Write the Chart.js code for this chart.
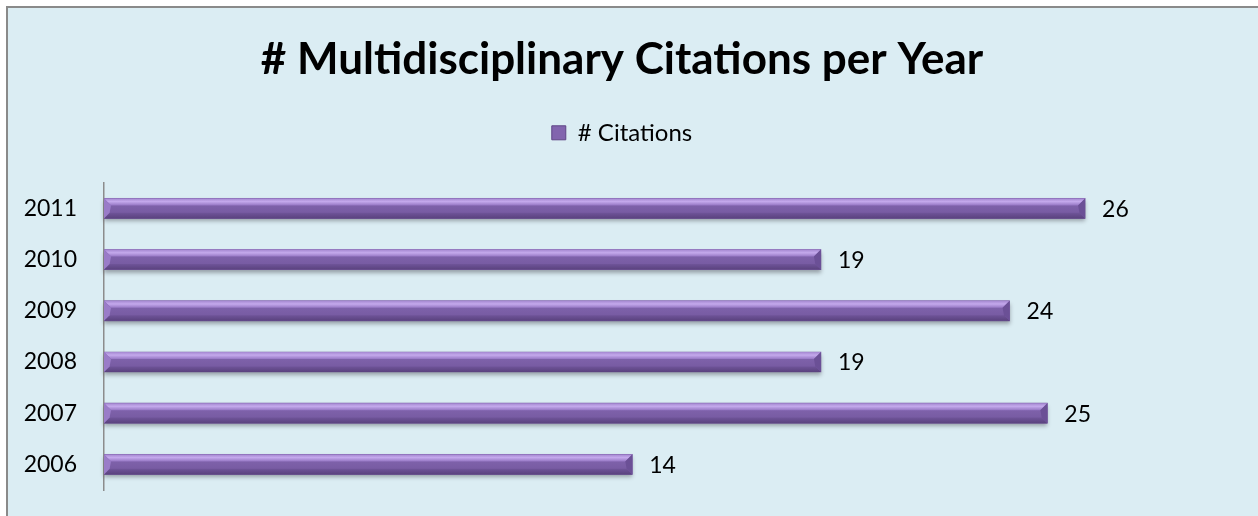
<!DOCTYPE html>
<html>
<head>
<meta charset="utf-8">
<script src="https://cdn.jsdelivr.net/npm/chart.js@4/dist/chart.umd.min.js"></script>
<style>
  html, body { margin: 0; padding: 0; background: #ffffff; overflow: hidden; }
  #frame {
    position: absolute; left: 6px; top: 6px;
    width: 1270px; height: 530px;
    border-left: 2px solid #8a8a8a; border-top: 2px solid #8a8a8a;
    background: #DBEDF3;
  }
  #c { position: absolute; left: 0; top: 0; }
</style>
</head>
<body>
<div id="frame"><canvas id="c" width="1250" height="508"></canvas></div>
<script>
const years = ['2006', '2007', '2008', '2009', '2010', '2011'];
const citations = [14, 25, 19, 24, 19, 26];
const seriesName = '# Citations';
const chartTitle = '# Multidisciplinary Citations per Year';
const xMax = 30;

const FONT = 'Lato, "Open Sans", sans-serif';

const bevelBars = {
  id: 'bevelBars',
  afterDatasetsDraw(chart) {
    const ctx = chart.ctx;
    const meta = chart.getDatasetMeta(0);
    meta.data.forEach((el) => {
      const p = el.getProps(['x', 'y', 'base', 'height'], true);
      const left = Math.min(p.base, p.x), right = Math.max(p.base, p.x);
      const top = p.y - p.height / 2, bottom = p.y + p.height / 2;
      const h = bottom - top;
      const b = Math.min(7, (right - left) / 2);
      ctx.save();
      ctx.shadowColor = 'rgba(70,70,80,0.45)';
      ctx.shadowBlur = 4;
      ctx.shadowOffsetY = 3;
      ctx.fillStyle = '#7D5FA8';
      ctx.fillRect(left, top, right - left, h);
      ctx.restore();
      ctx.save();
      const g = ctx.createLinearGradient(0, top, 0, bottom);
      g.addColorStop(0, '#8467B0');
      g.addColorStop(1, '#73579E');
      ctx.fillStyle = g;
      ctx.fillRect(left, top, right - left, h);
      const gt = ctx.createLinearGradient(0, top, 0, top + b);
      gt.addColorStop(0, '#A487D0');
      gt.addColorStop(0.45, '#C4A9EC');
      gt.addColorStop(1, '#9677C4');
      ctx.fillStyle = gt;
      ctx.beginPath();
      ctx.moveTo(left, top); ctx.lineTo(right, top);
      ctx.lineTo(right - b, top + b); ctx.lineTo(left + b, top + b);
      ctx.closePath(); ctx.fill();
      const gb = ctx.createLinearGradient(0, bottom - b * 0.8, 0, bottom);
      gb.addColorStop(0, '#6F5499');
      gb.addColorStop(1, '#5A427E');
      ctx.fillStyle = gb;
      ctx.beginPath();
      ctx.moveTo(left, bottom); ctx.lineTo(right, bottom);
      ctx.lineTo(right - b * 0.8, bottom - b * 0.8); ctx.lineTo(left + b * 0.8, bottom - b * 0.8);
      ctx.closePath(); ctx.fill();
      ctx.fillStyle = '#9A7CC8';
      ctx.beginPath();
      ctx.moveTo(left, top); ctx.lineTo(left + b, top + b);
      ctx.lineTo(left + b * 0.8, bottom - b * 0.8); ctx.lineTo(left, bottom);
      ctx.closePath(); ctx.fill();
      ctx.fillStyle = '#6B5096';
      ctx.beginPath();
      ctx.moveTo(right, top); ctx.lineTo(right - b, top + b);
      ctx.lineTo(right - b * 0.8, bottom - b * 0.8); ctx.lineTo(right, bottom);
      ctx.closePath(); ctx.fill();
      ctx.restore();
    });
  }
};

const valueLabels = {
  id: 'valueLabels',
  afterDatasetsDraw(chart) {
    const ctx = chart.ctx;
    const meta = chart.getDatasetMeta(0);
    const data = chart.data.datasets[0].data;
    ctx.save();
    ctx.font = '23px ' + FONT;
    ctx.fillStyle = '#000000';
    ctx.textAlign = 'left';
    ctx.textBaseline = 'middle';
    meta.data.forEach((el, i) => {
      ctx.fillText(String(data[i]), el.x + 17, el.y + 1);
    });
    ctx.restore();
  }
};

new Chart(document.getElementById('c'), {
  type: 'bar',
  data: {
    labels: years,
    datasets: [{
      label: seriesName,
      data: citations,
      backgroundColor: '#7D5FA8',
      borderWidth: 0,
      barThickness: 20
    }]
  },
  options: {
    indexAxis: 'y',
    responsive: false,
    animation: false,
    devicePixelRatio: 1,
    layout: { padding: { left: 0, right: 22, top: 0, bottom: 26 } },
    scales: {
      x: {
        position: 'top',
        min: 0, max: xMax,
        grid: { display: false },
        border: { display: false },
        ticks: { display: false },
        afterFit(scale) { scale.height = 28; }
      },
      y: {
        reverse: true,
        grid: { display: false, drawTicks: false },
        border: { display: true, color: '#8C8C8C', width: 1.5 },
        ticks: { color: '#000000', font: { family: FONT, size: 23 }, padding: 27 },
        afterFit(scale) {
          scale.width = 96;
          scale.paddingTop = 0;
          scale.paddingBottom = 0;
        }
      }
    },
    plugins: {
      title: {
        display: true,
        text: chartTitle,
        color: '#000000',
        font: { family: FONT, size: 44, weight: 'bold' },
        padding: { top: 25, bottom: 25 }
      },
      legend: {
        display: true,
        position: 'top',
        labels: {
          color: '#000000',
          font: { family: FONT, size: 24 },
          boxWidth: 14, boxHeight: 14,
          padding: 10,
          generateLabels(chart) {
            return [{
              text: seriesName,
              fillStyle: '#8265AE',
              strokeStyle: '#5E4585',
              lineWidth: 1,
              datasetIndex: 0,
              hidden: false
            }];
          }
        }
      },
      tooltip: { enabled: false }
    }
  },
  plugins: [bevelBars, valueLabels]
});
</script>
</body>
</html>
